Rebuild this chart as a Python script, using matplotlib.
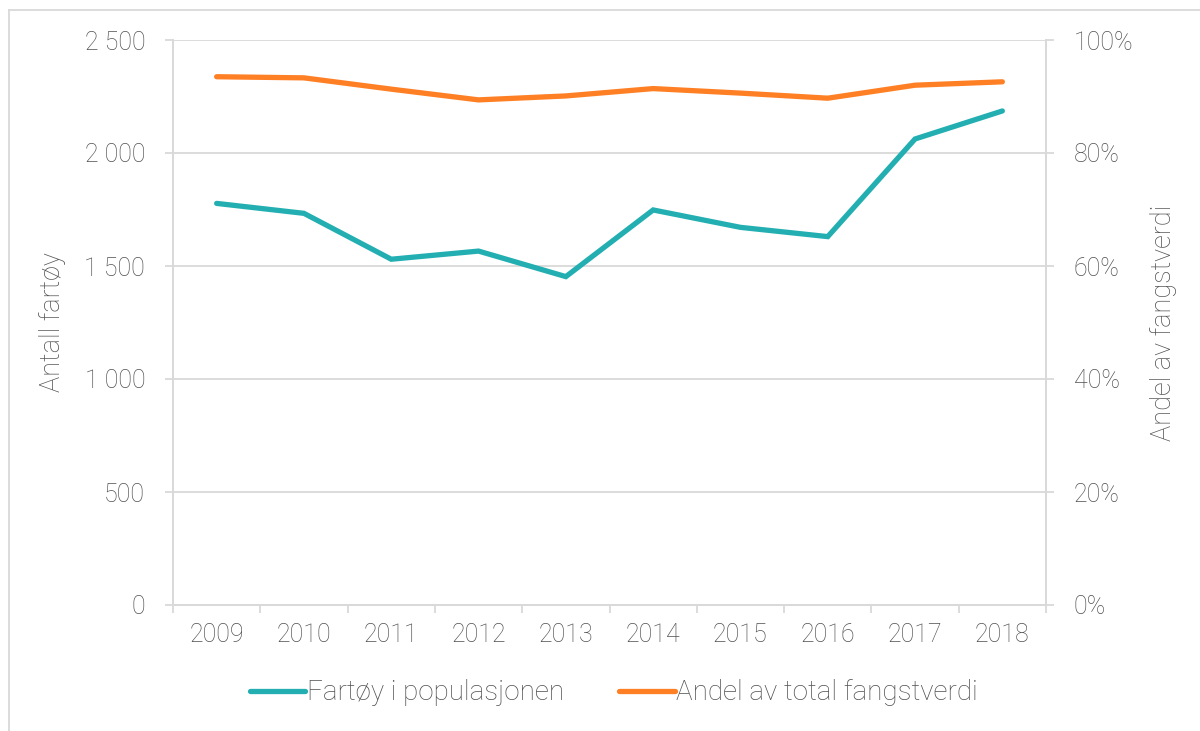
import matplotlib
matplotlib.use("Agg")
import matplotlib.pyplot as plt
from matplotlib.lines import Line2D
from matplotlib.ticker import FuncFormatter, FixedLocator

years = ["2009", "2010", "2011", "2012", "2013", "2014", "2015", "2016", "2017", "2018"]
fartoy = [1777, 1733, 1530, 1566, 1453, 1748, 1671, 1630, 2062, 2186]
andel = [0.935, 0.933, 0.913, 0.894, 0.901, 0.914, 0.906, 0.897, 0.920, 0.926]

left_ticks = [0, 500, 1000, 1500, 2000, 2500]
right_ticks = [0, 0.2, 0.4, 0.6, 0.8, 1.0]

TEAL = "#23AFB2"
ORANGE = "#FF7F24"
GRID = "#D9D9D9"
TXT = "#505050"

plt.rcParams['font.family'] = ['Roboto', 'DejaVu Sans']
plt.rcParams['font.weight'] = 'light'
plt.rcParams['axes.labelweight'] = 'light'

W, H = 1200, 731
fig = plt.figure(figsize=(12, 7.31), dpi=100)
ax = fig.add_axes([173 / W, 1 - 605 / H, (1046 - 173) / W, (605 - 40) / H])
ax2 = ax.twinx()

x = list(range(len(years)))
ax.plot(x, fartoy, color=TEAL, lw=3.8, solid_capstyle="round", solid_joinstyle="miter", zorder=3)
ax2.plot(x, andel, color=ORANGE, lw=3.8, solid_capstyle="round", solid_joinstyle="miter", zorder=3)

ax.set_xlim(-0.5, len(years) - 0.5)
ax.set_ylim(0, 2500)
ax2.set_ylim(0, 1.0)

ax.yaxis.set_major_locator(FixedLocator(left_ticks))
ax.yaxis.set_major_formatter(FuncFormatter(lambda v, p: f"{int(v):,}".replace(",", " ")))
ax2.yaxis.set_major_locator(FixedLocator(right_ticks))
ax2.yaxis.set_major_formatter(FuncFormatter(lambda v, p: f"{v*100:.0f}%"))

ax.set_xticks(x)
ax.set_xticklabels(years)
ax.set_xticks([i - 0.5 for i in range(len(years) + 1)], minor=True)
ax.tick_params(axis="x", which="major", length=0, pad=13, labelsize=18, labelcolor=TXT)
ax.tick_params(axis="x", which="minor", length=6, width=1.3, color=GRID, direction="out")
ax.tick_params(axis="y", length=6, width=1.3, color=GRID, pad=14, labelsize=18, labelcolor=TXT)
ax2.tick_params(axis="y", length=6, width=1.3, color=GRID, pad=14, labelsize=18, labelcolor=TXT)

ax.grid(axis="y", color=GRID, lw=1.3)
ax.set_axisbelow(True)

for a in (ax, ax2):
    for s in a.spines.values():
        s.set_color(GRID)
        s.set_linewidth(1.3)
    a.spines["top"].set_visible(False)

ax.set_ylabel("Antall fartøy", fontsize=19.5, color=TXT)
ax2.set_ylabel("Andel av fangstverdi", fontsize=19.5, color=TXT)
ax.yaxis.set_label_coords(-(173 - 66) / (1046 - 173), 0.5)
ax2.yaxis.set_label_coords(1 + (1150 - 1046) / (1046 - 173), 0.5)

handles = [Line2D([], [], color=TEAL, lw=3.8, solid_capstyle="round"),
           Line2D([], [], color=ORANGE, lw=3.8, solid_capstyle="round")]
fig.legend(handles, ["Fartøy i populasjonen", "Andel av total fangstverdi"],
           loc="center", bbox_to_anchor=(614 / W, 1 - 693 / H), ncol=2, frameon=False,
           fontsize=20, labelcolor=TXT, handlelength=2.0, handletextpad=0.05, columnspacing=2.0)

# outer chart border (top and left visible)
fig.add_artist(Line2D([9 / W, 1.0], [1 - 10 / H, 1 - 10 / H], transform=fig.transFigure, color=GRID, lw=1.3))
fig.add_artist(Line2D([9 / W, 9 / W], [0.0, 1 - 10 / H], transform=fig.transFigure, color=GRID, lw=1.3))

fig.savefig("out.png", dpi=100, facecolor="white")
